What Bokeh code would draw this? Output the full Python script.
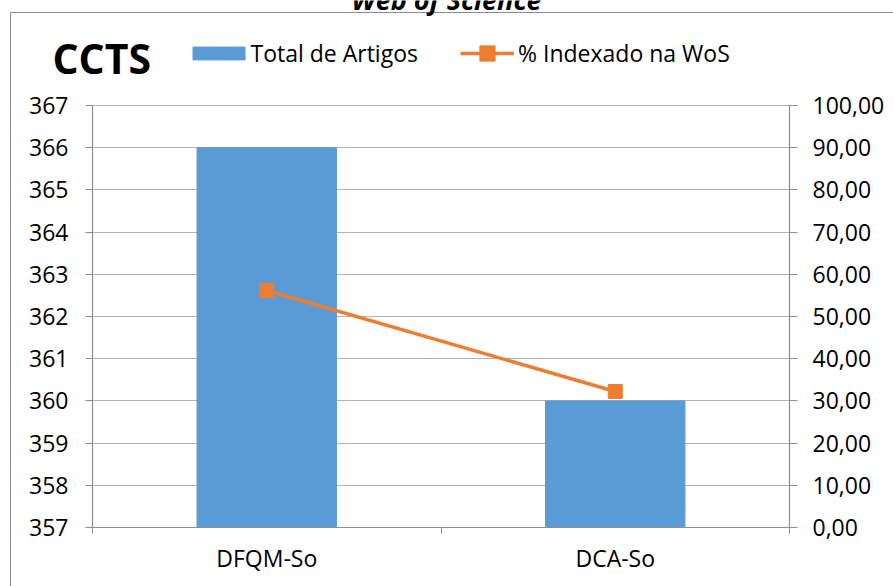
from bokeh.plotting import figure
from bokeh.models import (Range1d, LinearAxis, FixedTicker, Legend, LegendItem,
                          Label, Grid, ColumnDataSource)
from bokeh.embed import file_html
from bokeh.resources import INLINE

# ---- data ----
categories = ["DFQM-So", "DCA-So"]
total_artigos = [366, 360]
pct_indexado = [56.16, 32.22]
left_ticks = list(range(357, 368))
right_ticks = list(range(0, 101, 10))
right_tick_labels = [f"{t},00" for t in right_ticks]
series_names = ["Total de Artigos", "% Indexado na WoS"]
chart_label = "CCTS"
chart_title = "Web of Science"

FONT = "Open Sans"
BLUE = "#5B9BD5"
ORANGE = "#ED7D31"
GRID = "#b4b4b4"
AXIS = "#8e8e8e"
FS = "23px"

# layout (pixels)
W, H = 893, 586
PLOT_L, PLOT_R = 92, 789      # pixel columns of the two value axes
PLOT_TOP, PLOT_BOT = 105, 527  # pixel rows of the top / bottom ticks
n = len(categories)
x_px = (PLOT_R - PLOT_L) / n
x_start = -PLOT_L / x_px
x_end = n + (W - PLOT_R) / x_px
px_per_unit = (PLOT_BOT - PLOT_TOP) / (left_ticks[-1] - left_ticks[0])
y_start = left_ticks[0] - (H - PLOT_BOT) / px_per_unit
y_end = left_ticks[0] + PLOT_BOT / px_per_unit
r_px_per_unit = (PLOT_BOT - PLOT_TOP) / (right_ticks[-1] - right_ticks[0])
r_start = right_ticks[0] - (H - PLOT_BOT) / r_px_per_unit
r_end = right_ticks[0] + PLOT_BOT / r_px_per_unit

xs = [i + 0.5 for i in range(n)]
src = ColumnDataSource(dict(x=xs, cat=categories, total=total_artigos, pct=pct_indexado))

p = figure(width=W, height=H, x_range=Range1d(x_start, x_end),
           y_range=Range1d(y_start, y_end),
           x_axis_type=None, y_axis_type=None,
           output_backend="svg", toolbar_location=None,
           min_border_left=0, min_border_right=0,
           min_border_top=0, min_border_bottom=0)
p.extra_y_ranges = {"pct": Range1d(r_start, r_end)}
p.outline_line_color = None
p.background_fill_alpha = 0
p.border_fill_alpha = 0
p.styles = {
    "background": ("linear-gradient(#8c8c8c,#8c8c8c) 10px 12px / 1px calc(100% - 12px) no-repeat, "
                   "linear-gradient(#8c8c8c,#8c8c8c) 10px 12px / calc(100% - 10px) 1px no-repeat, "
                   "#ffffff")
}

# axes
x_ticker = FixedTicker(ticks=xs, minor_ticks=list(range(n + 1)))
xaxis = LinearAxis(ticker=x_ticker, bounds=(0, n), fixed_location=left_ticks[0],
                   major_label_overrides={x: c for x, c in zip(xs, categories)})
left_ticker = FixedTicker(ticks=left_ticks)
yaxis = LinearAxis(ticker=left_ticker, bounds=(left_ticks[0], left_ticks[-1]),
                   fixed_location=0)
right_ticker = FixedTicker(ticks=right_ticks)
raxis = LinearAxis(ticker=right_ticker, y_range_name="pct",
                   bounds=(right_ticks[0], right_ticks[-1]), fixed_location=n,
                   major_label_overrides={t: l for t, l in zip(right_ticks, right_tick_labels)})

for ax in (xaxis, yaxis, raxis):
    ax.axis_line_color = AXIS
    ax.axis_line_width = 1.2
    ax.major_tick_line_color = AXIS
    ax.minor_tick_line_color = AXIS
    ax.major_tick_in = 0
    ax.minor_tick_in = 0
    ax.major_label_text_font = FONT
    ax.major_label_text_font_size = FS
    ax.major_label_text_color = "black"

xaxis.major_tick_out = 0
xaxis.minor_tick_out = 6
xaxis.major_label_standoff = 8
yaxis.major_tick_out = 7
yaxis.minor_tick_out = 0
yaxis.major_label_standoff = 17
raxis.major_tick_out = 8
raxis.minor_tick_out = 0
raxis.major_label_standoff = 15

p.add_layout(xaxis, "below")
p.add_layout(yaxis, "left")
p.add_layout(raxis, "right")
p.add_layout(Grid(dimension=1, ticker=left_ticker, cross_bounds=(0, n),
                  grid_line_color=GRID, grid_line_width=1))

# glyphs
bars = p.vbar(x="x", top="total", bottom=left_ticks[0], width=0.4, source=src,
              fill_color=BLUE, line_color=BLUE)
line = p.line(x="x", y="pct", source=src, y_range_name="pct",
              line_color=ORANGE, line_width=3.5)
marks = p.scatter(x="x", y="pct", source=src, y_range_name="pct",
                  marker="square", size=14, fill_color=ORANGE, line_color=ORANGE)

# legends (location measured from the frame's bottom-left corner)
LEG_Y = H - 71.5
common = dict(orientation="horizontal", padding=0, margin=0, border_line_alpha=0,
              background_fill_alpha=0, label_text_font=FONT, label_text_font_size=FS,
              label_text_color="black", label_height=38)
leg1 = Legend(items=[LegendItem(label=series_names[0], renderers=[bars])],
              location=(185.5, LEG_Y), glyph_width=65, glyph_height=16, label_standoff=0, **common)
leg2 = Legend(items=[LegendItem(label=series_names[1], renderers=[line, marks])],
              location=(460, LEG_Y), glyph_width=54, glyph_height=38, label_standoff=4, **common)
p.add_layout(leg1)
p.add_layout(leg2)

# texts
p.add_layout(Label(x=1.0158, y=369.515, text=chart_title, text_align="center",
                   text_baseline="alphabetic", text_font=FONT, text_font_size="27px",
                   text_font_style="bold italic", text_color="black"))
p.add_layout(Label(x=-0.1148, y=368.126, text=chart_label, text_align="left",
                   text_baseline="alphabetic", text_font=FONT, text_font_size="41px",
                   text_font_style="bold", text_color="black"))

open("out.html", "w").write(file_html(p, INLINE))
